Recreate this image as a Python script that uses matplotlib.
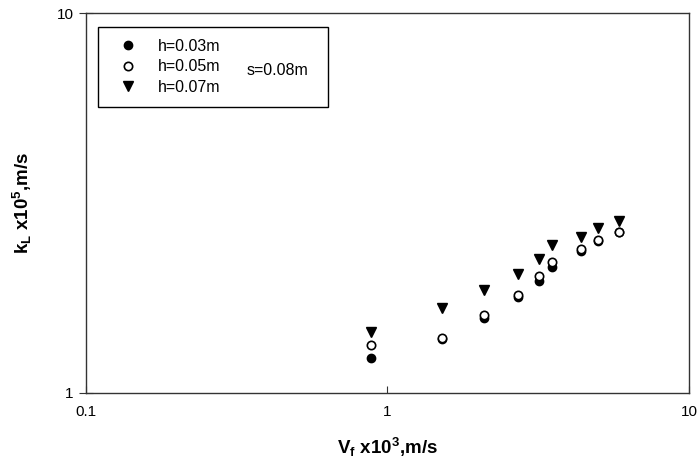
import matplotlib
matplotlib.use('Agg')
import matplotlib.pyplot as plt
from matplotlib.lines import Line2D

plt.rcParams['font.family'] = ['Liberation Sans', 'DejaVu Sans']
plt.rcParams['mathtext.fontset'] = 'custom'
plt.rcParams['mathtext.rm'] = 'Liberation Sans:bold'
plt.rcParams['mathtext.bf'] = 'Liberation Sans:bold'
plt.rcParams['mathtext.it'] = 'Liberation Sans:bold'

# 数据: 流速 Vf x10^3 (m/s) 与 kL x10^5 (m/s)
vf = [0.88, 1.52, 2.09, 2.70, 3.17, 3.52, 4.38, 4.99, 5.84]
kl_h003 = [1.234, 1.387, 1.575, 1.794, 1.975, 2.150, 2.371, 2.512, 2.645]
kl_h005 = [1.338, 1.393, 1.604, 1.811, 2.032, 2.216, 2.388, 2.527, 2.658]
kl_h007 = [1.450, 1.671, 1.867, 2.057, 2.248, 2.447, 2.578, 2.713, 2.844]
labels = ['h=0.03m', 'h=0.05m', 'h=0.07m']

fig = plt.figure(figsize=(6.99, 4.66), dpi=100)
ax = fig.add_axes([0.123, 0.1567, 0.8627, 0.8153])

ax.plot(vf, kl_h003, 'o', color='black', markersize=6, linestyle='none')
ax.plot(vf, kl_h005, 'o', markerfacecolor='white', markeredgecolor='black',
        markeredgewidth=1.2, markersize=6, linestyle='none')
ax.plot(vf, kl_h007, 'v', color='black', markersize=7, linestyle='none')

ax.set_xscale('log')
ax.set_yscale('log')
ax.set_xlim(0.1, 10)
ax.set_ylim(1, 10)
ax.set_xticks([0.1, 1, 10])
ax.set_xticklabels(['0.1', '1', '10'])
ax.set_yticks([1, 10])
ax.set_yticklabels(['1', '10'])
ax.minorticks_off()
ax.tick_params(axis='x', direction='in', length=5, labelsize=11, pad=9, color='#333333')
ax.tick_params(axis='y', direction='inout', length=10, labelsize=11, pad=4, color='#333333')
for s in ax.spines.values():
    s.set_color('#333333')
    s.set_linewidth(1.0)

ax.set_xlabel(r'$V_f\ x10^3$,m/s', fontsize=13.5, fontweight='bold', labelpad=12)
ax.set_ylabel(r'$k_L\ x10^5$,m/s', fontsize=13.5, fontweight='bold', labelpad=16)

handles = [
    Line2D([], [], marker='o', color='black', linestyle='none', markersize=6),
    Line2D([], [], marker='o', markerfacecolor='white', markeredgecolor='black',
           markeredgewidth=1.2, linestyle='none', markersize=6),
    Line2D([], [], marker='v', color='black', linestyle='none', markersize=7),
]
leg = ax.legend(handles, labels, loc='upper left',
                bbox_to_anchor=(0.0199, 0.7605, 0.3814, 0.2026), mode='expand',
                fancybox=False, edgecolor='black', fontsize=11.5, handletextpad=0.72,
                labelspacing=0.33, borderpad=0.75, handlelength=2.3,
                borderaxespad=0)
leg.get_frame().set_linewidth(1.0)
leg.get_frame().set_alpha(None)
ax.text(0.267, 0.85, 's=0.08m', transform=ax.transAxes, fontsize=11.5,
        va='center', ha='left', zorder=10)

plt.savefig('out.png', dpi=100)
